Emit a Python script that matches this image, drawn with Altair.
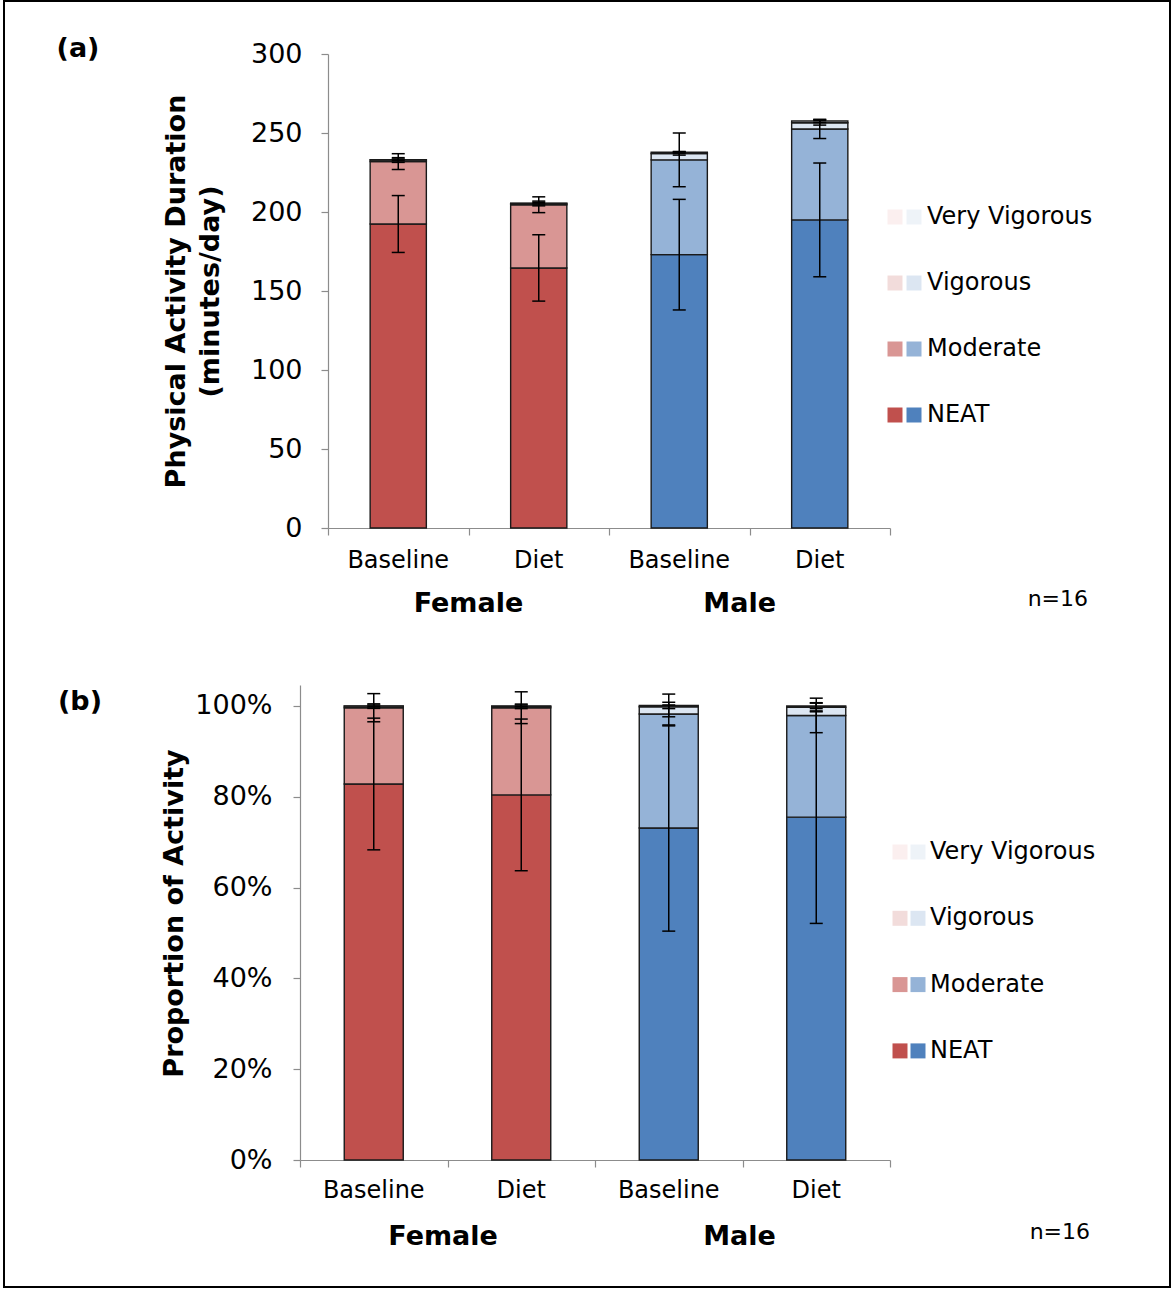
import altair as alt
import pandas as pd

FONT = "DejaVu Sans"
AXIS_GREY = "#8c8c8c"
OUTLINE = "#1a1a1a"

# Bars, left to right
bar_conditions = ["Baseline", "Diet", "Baseline", "Diet"]
bar_sexes = ["Female", "Female", "Male", "Male"]
group_names = ["Female", "Male"]
group_centres_a = [1.0, 2.93]
group_centres_b = [0.97, 2.98]
levels = ["NEAT", "Moderate", "Vigorous", "Very Vigorous"]
legend_order = ["Very Vigorous", "Vigorous", "Moderate", "NEAT"]

female_colours = ["#C0504D", "#D99694", "#F2DCDB", "#FBEFEF"]
male_colours = ["#4F81BD", "#95B3D7", "#DCE6F2", "#EEF3F8"]

# (a) duration, minutes/day
dur_neat = [192.4, 164.6, 173.0, 195.0]
dur_moderate = [39.5, 40.0, 60.0, 57.5]
dur_vigorous = [1.0, 0.8, 4.0, 4.0]
dur_very = [0.2, 0.2, 0.8, 1.1]
dur_err_neat = [18.0, 21.0, 35.0, 36.0]
dur_err_moderate = [5.0, 5.0, 17.0, 6.0]
dur_err_vigorous = [1.5, 1.5, 1.0, 1.5]
dur_err_very = [0.5, 0.5, 0.5, 1.0]

# (b) proportion of activity
prop_neat = [0.828, 0.804, 0.731, 0.755]
prop_moderate = [0.168, 0.192, 0.251, 0.224]
prop_vigorous = [0.0035, 0.003, 0.016, 0.018]
prop_very = [0.0005, 0.001, 0.003, 0.003]
prop_err_neat = [0.145, 0.167, 0.227, 0.234]
prop_err_moderate = [0.031, 0.035, 0.026, 0.038]
prop_err_vigorous = [0.005, 0.005, 0.004, 0.010]
prop_err_very = [0.002, 0.002, 0.025, 0.006]

dur_ticks = [0, 50, 100, 150, 200, 250, 300]
prop_ticks = [0, 0.2, 0.4, 0.6, 0.8, 1.0]
sample_note = "n=16"

BAR_HALF = 0.2


def segment_table(values, errors):
    rows = []
    for i, (cond, sex) in enumerate(zip(bar_conditions, bar_sexes)):
        palette = female_colours if sex == "Female" else male_colours
        bottom = 0.0
        for k, lvl in enumerate(levels):
            top = bottom + values[k][i]
            rows.append({
                "pos": i + 0.5,
                "left": i + 0.5 - BAR_HALF,
                "right": i + 0.5 + BAR_HALF,
                "level": lvl,
                "bottom": bottom,
                "top": top,
                "lo": top - errors[k][i],
                "hi": top + errors[k][i],
                "fill": palette[k],
            })
            bottom = top
    return pd.DataFrame(rows)


def one_row():
    return alt.Chart(pd.DataFrame({"k": [0]}))


def panel(seg, y_scale, y_axis, width, height, x_range, tag, tag_xy,
          legend_xy, note_xy, label_y, group_y, group_centres, border=None):
    x_scale = alt.Scale(domain=[0, 4], range=x_range, nice=False, zero=False)
    x_axis = alt.Axis(values=[0, 1, 2, 3, 4], labels=False, title=None, grid=False,
                      domainColor=AXIS_GREY, tickColor=AXIS_GREY, tickSize=7,
                      domainWidth=1.2, tickWidth=1.2)

    def X(f):
        return alt.X(f, type="quantitative", scale=x_scale, axis=x_axis)

    def Y(f):
        return alt.Y(f, type="quantitative", scale=y_scale, axis=y_axis)

    base = alt.Chart(seg)
    bars = base.mark_bar(stroke=OUTLINE, strokeWidth=1.4, opacity=1).encode(
        x=X("left"), x2="right", y=Y("bottom"), y2="top",
        fill=alt.Fill("fill:N", scale=None),
    )
    whiskers = base.mark_rule(color="black", strokeWidth=1.5).encode(
        x=X("pos"), y=Y("lo"), y2="hi"
    )
    caps = base.transform_fold(["lo", "hi"], as_=["end", "val"]).mark_tick(
        orient="horizontal", size=13, thickness=1.5, color="black", opacity=1
    ).encode(x=X("pos"), y=Y("val"))

    cats = pd.DataFrame({"pos": [i + 0.5 for i in range(4)], "cond": bar_conditions})
    cat_text = alt.Chart(cats).mark_text(font=FONT, fontSize=24, color="black").encode(
        x=X("pos"), y=alt.value(label_y), text="cond:N"
    )
    grp = pd.DataFrame({"pos": group_centres, "name": group_names})
    grp_text = alt.Chart(grp).mark_text(
        font=FONT, fontSize=27, fontWeight="bold", color="black"
    ).encode(x=X("pos"), y=alt.value(group_y), text="name:N")

    note = one_row().mark_text(font=FONT, fontSize=22, color="black", align="right").encode(
        x=alt.value(note_xy[0]), y=alt.value(note_xy[1]), text=alt.value(sample_note)
    )
    tag_text = one_row().mark_text(font=FONT, fontSize=27, fontWeight="bold", color="black").encode(
        x=alt.value(tag_xy[0]), y=alt.value(tag_xy[1]), text=alt.value(tag)
    )

    layers = [bars, whiskers, caps, cat_text, grp_text, note, tag_text]

    red_x, blue_x, text_x, y0, step = legend_xy
    for r, lvl in enumerate(legend_order):
        k = levels.index(lvl)
        y = y0 + r * step
        layers.append(one_row().mark_square(size=225, color=female_colours[k], opacity=1).encode(
            x=alt.value(red_x), y=alt.value(y)))
        layers.append(one_row().mark_square(size=225, color=male_colours[k], opacity=1).encode(
            x=alt.value(blue_x), y=alt.value(y)))
        layers.append(one_row().mark_text(font=FONT, fontSize=24, color="black", align="left").encode(
            x=alt.value(text_x), y=alt.value(y), text=alt.value(lvl)))

    if border is not None:
        bx1, bx2, by1, by2 = border
        layers.append(one_row().mark_rect(filled=False, stroke="black", strokeWidth=2).encode(
            x=alt.value(bx1), x2=alt.value(bx2), y=alt.value(by1), y2=alt.value(by2)))

    return alt.layer(*layers).properties(width=width, height=height)


seg_a = segment_table(
    [dur_neat, dur_moderate, dur_vigorous, dur_very],
    [dur_err_neat, dur_err_moderate, dur_err_vigorous, dur_err_very],
)
seg_b = segment_table(
    [prop_neat, prop_moderate, prop_vigorous, prop_very],
    [prop_err_neat, prop_err_moderate, prop_err_vigorous, prop_err_very],
)

axis_common = dict(
    grid=False, domainColor=AXIS_GREY, tickColor=AXIS_GREY, tickSize=7,
    domainWidth=1.2, tickWidth=1.2, labelFont=FONT, labelFontSize=27,
    labelColor="black", labelFlush=False, labelOverlap=False,
    titleFont=FONT, titleFontSize=27, titleFontWeight="bold", titleColor="black",
)

y_axis_a = alt.Axis(
    values=dur_ticks, title=["Physical Activity Duration", "(minutes/day)"],
    offset=-28, labelPadding=19, titlePadding=26, titleLineHeight=34, **axis_common
)
y_axis_b = alt.Axis(
    values=prop_ticks, format=".0%", title="Proportion of Activity",
    labelPadding=21, titlePadding=6, titleY=228, **axis_common
)

panel_a = panel(
    seg_a,
    alt.Scale(domain=[0, 300], nice=False, zero=True),
    y_axis_a, 590, 474, [28, 590], "(a)", (-222, -5),
    (595, 614, 627, 163, 66), (788, 545), 507, 550, group_centres_a,
    border=(-296, 870, -53, 1233),
)
panel_b = panel(
    seg_b,
    alt.Scale(domain=[0, 1.046], nice=False, zero=True),
    y_axis_b, 590, 475, [0, 590], "(b)", (-220, 17),
    (600, 618, 630, 167, 66.3), (790, 547), 506, 552, group_centres_b,
)

chart = alt.vconcat(panel_a, panel_b, spacing=157, bounds="flush").properties(
    padding={"left": 3, "top": 0, "right": 0, "bottom": 0},
    background="white",
).configure_view(stroke=None)

chart.save("out.html", embed_options={"renderer": "svg", "actions": False})
